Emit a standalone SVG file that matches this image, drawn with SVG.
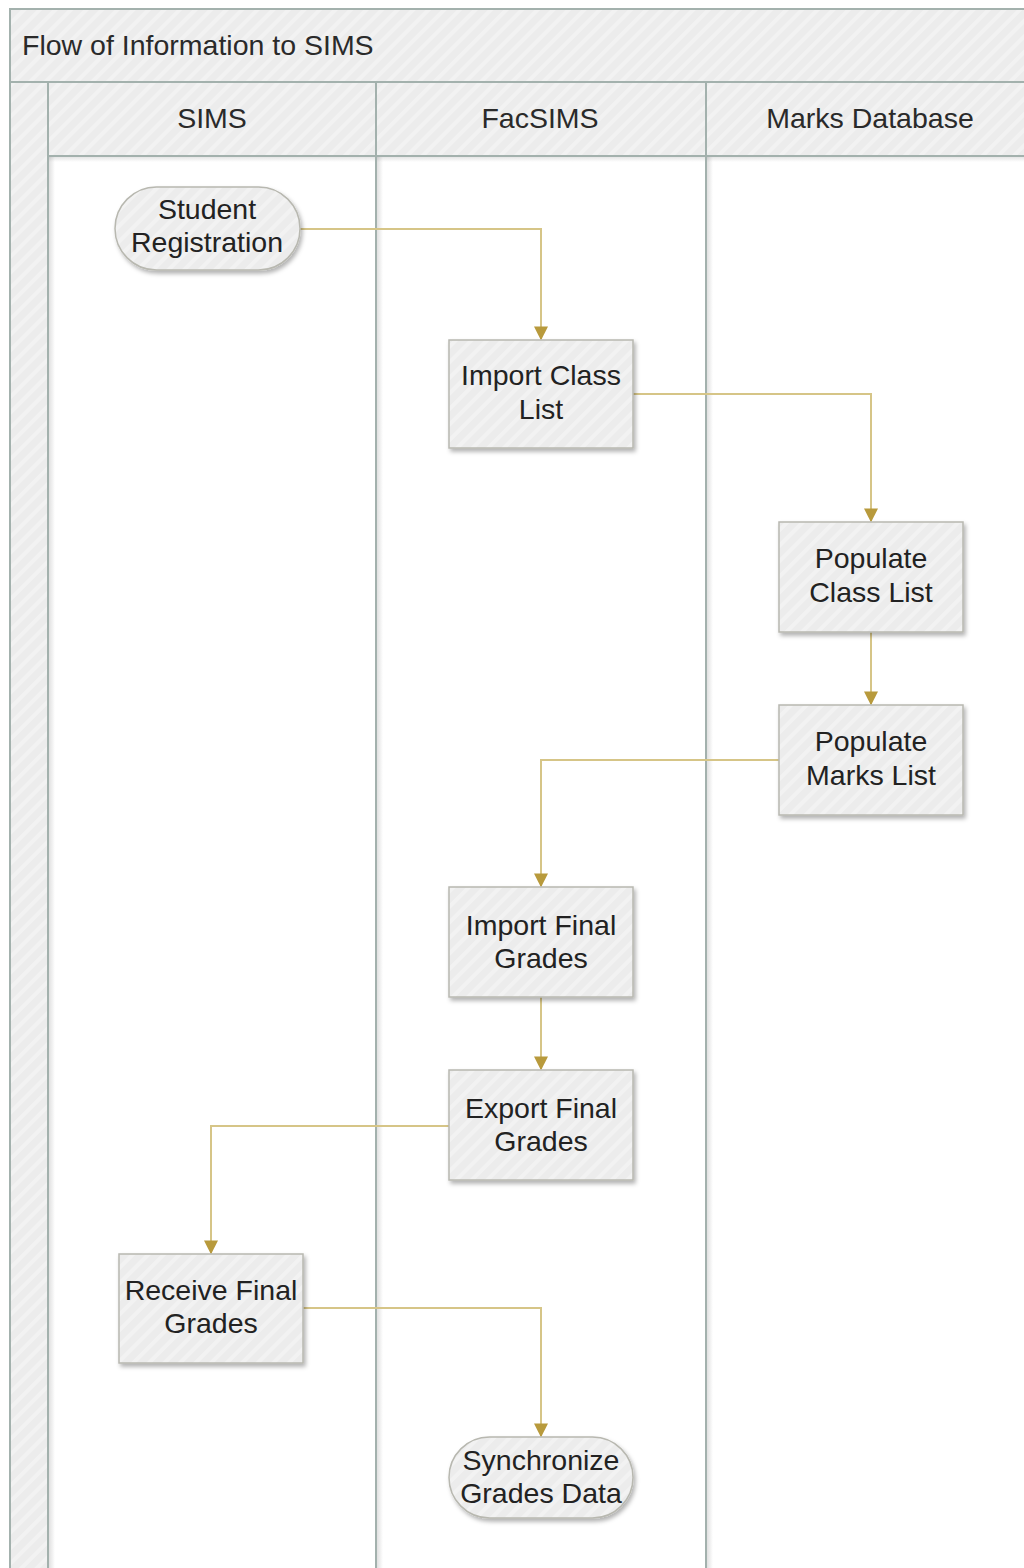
<svg xmlns="http://www.w3.org/2000/svg" width="1024" height="1568" viewBox="0 0 1024 1568">
  <defs>
    <pattern id="hatch" width="11" height="11" patternUnits="userSpaceOnUse" patternTransform="rotate(45)">
      <rect width="11" height="11" fill="#ececec"/>
      <rect width="4" height="11" fill="#f2f2f2"/>
    </pattern>
    <filter id="shadow" x="-10%" y="-10%" width="130%" height="140%">
      <feDropShadow dx="2" dy="3" stdDeviation="2" flood-color="#000" flood-opacity="0.3"/>
    </filter>
    <linearGradient id="divShade" x1="0" x2="1" y1="0" y2="0">
      <stop offset="0" stop-color="#000" stop-opacity="0.12"/>
      <stop offset="1" stop-color="#000" stop-opacity="0"/>
    </linearGradient>
    <linearGradient id="headShade" x1="0" x2="0" y1="0" y2="1">
      <stop offset="0" stop-color="#000" stop-opacity="0.1"/>
      <stop offset="1" stop-color="#000" stop-opacity="0"/>
    </linearGradient>
    <marker id="arrow" viewBox="0 0 10 10" refX="9" refY="5" markerWidth="14" markerHeight="14" markerUnits="userSpaceOnUse" orient="auto">
      <path d="M0,0 L10,5 L0,10 z" fill="#b89a3c"/>
    </marker>
  </defs>
  <style>
    .band { fill: url(#hatch); stroke: #a3b1ad; stroke-width: 2; }
    .sep { stroke: #a3b1ad; stroke-width: 2; fill: none; }
    .shade { fill: url(#divShade); }
    .title { font-family: "Liberation Sans", Arial, sans-serif; font-size: 28.5px; fill: #2a2a2a; }
    .head { font-family: "Liberation Sans", Arial, sans-serif; font-size: 28.5px; fill: #2a2a2a; text-anchor: middle; }
    .node rect { fill: url(#hatch); stroke: #b8b8b0; stroke-width: 1.5; filter: url(#shadow); }
    .node text { font-family: "Liberation Sans", Arial, sans-serif; font-size: 28.5px; fill: #222; text-anchor: middle; }
    .conn path { fill: none; stroke: #d6c587; stroke-width: 2; marker-end: url(#arrow); }
  </style>

  <rect width="1024" height="1568" fill="#ffffff"/>

  <!-- pool and lanes -->
  <g id="pool">
    <rect class="band" x="10" y="9" width="1030" height="73"/>
    <text class="title" x="22" y="55">Flow of Information to SIMS</text>
    <rect class="band" x="10" y="82" width="38" height="1500"/>
    <rect x="48" y="156" width="990" height="1420" fill="#ffffff"/>
    <rect x="49" y="157" width="990" height="5" fill="url(#headShade)"/>
  </g>
  <g id="lane-sims">
    <rect class="band" x="48" y="82" width="328" height="74"/>
    <text class="head" x="212" y="128">SIMS</text>
  </g>
  <g id="lane-facsims">
    <rect class="band" x="376" y="82" width="330" height="74"/>
    <text class="head" x="540" y="128">FacSIMS</text>
  </g>
  <g id="lane-marks">
    <rect class="band" x="706" y="82" width="330" height="74"/>
    <text class="head" x="870" y="128">Marks Database</text>
  </g>
  <g id="lane-dividers">
    <rect class="shade" x="49" y="157" width="6" height="1411"/>
    <rect class="shade" x="377" y="157" width="6" height="1411"/>
    <rect class="shade" x="707" y="157" width="6" height="1411"/>
    <line class="sep" x1="48" y1="82" x2="48" y2="1568"/>
    <line class="sep" x1="376" y1="82" x2="376" y2="1568"/>
    <line class="sep" x1="706" y1="82" x2="706" y2="1568"/>
  </g>

  <!-- connectors -->
  <g id="connectors" class="conn">
    <path d="M300,229 H541 V339"/>
    <path d="M633,394 H871 V521"/>
    <path d="M871,632 V704"/>
    <path d="M779,760 H541 V886"/>
    <path d="M541,997 V1069"/>
    <path d="M449,1126 H211 V1253"/>
    <path d="M303,1308 H541 V1436"/>
  </g>

  <!-- nodes -->
  <g id="student-registration" class="node">
    <rect x="115" y="187" width="185" height="83" rx="41.5" ry="41.5"/>
    <text x="207" y="219">Student</text>
    <text x="207" y="252">Registration</text>
  </g>
  <g id="import-class-list" class="node">
    <rect x="449" y="340" width="184" height="108"/>
    <text x="541" y="385">Import Class</text>
    <text x="541" y="419">List</text>
  </g>
  <g id="populate-class-list" class="node">
    <rect x="779" y="522" width="184" height="110"/>
    <text x="871" y="568">Populate</text>
    <text x="871" y="602">Class List</text>
  </g>
  <g id="populate-marks-list" class="node">
    <rect x="779" y="705" width="184" height="110"/>
    <text x="871" y="751">Populate</text>
    <text x="871" y="785">Marks List</text>
  </g>
  <g id="import-final-grades" class="node">
    <rect x="449" y="887" width="184" height="110"/>
    <text x="541" y="935">Import Final</text>
    <text x="541" y="968">Grades</text>
  </g>
  <g id="export-final-grades" class="node">
    <rect x="449" y="1070" width="184" height="110"/>
    <text x="541" y="1118">Export Final</text>
    <text x="541" y="1151">Grades</text>
  </g>
  <g id="receive-final-grades" class="node">
    <rect x="119" y="1254" width="184" height="109"/>
    <text x="211" y="1300">Receive Final</text>
    <text x="211" y="1333">Grades</text>
  </g>
  <g id="synchronize-grades-data" class="node">
    <rect x="449" y="1437" width="184" height="81" rx="40.5" ry="40.5"/>
    <text x="541" y="1470">Synchronize</text>
    <text x="541" y="1503">Grades Data</text>
  </g>
</svg>
